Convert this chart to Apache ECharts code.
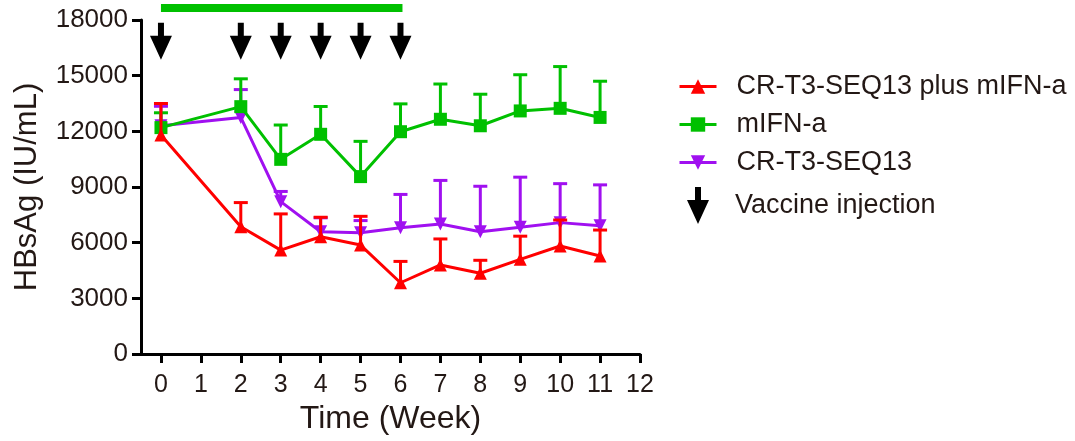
<!DOCTYPE html>
<html>
<head>
<meta charset="utf-8">
<script src="https://cdn.jsdelivr.net/npm/echarts@6/dist/echarts.min.js"></script>
<style>
html, body { margin: 0; padding: 0; background: #fff; }
#chart { width: 1075px; height: 441px; }
</style>
</head>
<body>
<div id="chart"></div>
<script>
var weeks = [0, 2, 3, 4, 5, 6, 7, 8, 9, 10, 11];
var xTicks = [0, 1, 2, 3, 4, 5, 6, 7, 8, 9, 10, 11, 12];

// mean HBsAg (IU/mL) and error (upper bar only)
var comboMean = [11800, 6860, 5600, 6320, 5870, 3840, 4800, 4350, 5100, 5820, 5280];
var comboErr = [1700, 1300, 1950, 1050, 1550, 1150, 1400, 700, 1250, 1400, 1400];
var ifnMean = [12200, 13330, 10490, 11840, 9560, 11980, 12650, 12300, 13100, 13240, 12750];
var ifnErr = [800, 1500, 1850, 1500, 1900, 1500, 1900, 1700, 1950, 2250, 1950];
var vacMean = [12300, 12750, 8210, 6590, 6540, 6800, 7005, 6590, 6830, 7080, 6915];
var vacErr = [1050, 1500, 550, 750, 650, 1800, 2350, 2450, 2700, 2100, 2200];

var injectionWeeks = [0, 2, 3, 4, 5, 6];
var arrowLevel = 16850;
var treatmentSpan = [0, 6.05];
var treatmentLevel = 18650;

var RED = '#ff0000', GREEN = '#00c000', PURPLE = '#a010f0';
var TXT = '#231815';
var FONT = 'Liberation Sans, Arial, sans-serif';
var ARROW = 'path://M8,0L14,0L14,13L22,13L11,37L0,13L8,13Z';

function pts(means) {
	return weeks.map(function(w, i) { return [w, means[i]]; });
}
function errPts(means, errs) {
	return weeks.map(function(w, i) { return [w, means[i], means[i] + errs[i]]; });
}
function errSeries(name, means, errs, color, z) {
	return {
		name: name + ' err',
		type: 'custom',
		z: z,
		data: errPts(means, errs),
		renderItem: function(params, api) {
			var p = api.coord([api.value(0), api.value(1)]);
			var t = api.coord([api.value(0), api.value(2)]);
			var st = { stroke: color, lineWidth: 3 };
			return {
				type: 'group',
				children: [
					{ type: 'line', shape: { x1: p[0], y1: p[1], x2: t[0], y2: t[1] }, style: st },
					{ type: 'line', shape: { x1: t[0] - 7, y1: t[1], x2: t[0] + 7, y2: t[1] }, style: st }
				]
			};
		}
	};
}

var myChart = echarts.init(document.getElementById('chart'));
var option = {
	animation: false,
	textStyle: { fontFamily: FONT, color: TXT },
	grid: {
		left: 141,
		right: 435,
		top: 20,
		bottom: 87,
		containLabel: false,
		outerBoundsMode: 'none'
	},
	legend: [{
		data: ['CR-T3-SEQ13 plus mIFN-a', 'mIFN-a', 'CR-T3-SEQ13'],
		orient: 'vertical',
		left: 673,
		top: 68,
		itemWidth: 37,
		itemHeight: 18,
		itemGap: 11,
		selectedMode: false,
		lineStyle: { width: 3 },
		textStyle: { fontSize: 27, color: TXT, fontFamily: FONT, padding: [0, 0, 0, 15] }
	}, {
		data: ['Vaccine injection'],
		orient: 'vertical',
		left: 682,
		top: 182,
		itemWidth: 22,
		itemHeight: 41,
		selectedMode: false,
		itemStyle: { opacity: 1 },
		textStyle: { fontSize: 27, color: TXT, fontFamily: FONT, padding: [0, 0, 0, 21] }
	}],
	xAxis: {
		type: 'value',
		min: -0.5,
		max: 12,
		name: 'Time (Week)',
		nameLocation: 'middle',
		nameGap: 44,
		nameTextStyle: { fontSize: 32, color: TXT, fontFamily: FONT },
		axisLine: { onZero: false, lineStyle: { color: '#000', width: 3 } },
		axisTick: { show: true, length: 9, lineStyle: { color: '#000', width: 3 }, customValues: xTicks },
		axisLabel: { fontSize: 25, color: TXT, margin: 19, customValues: xTicks },
		splitLine: { show: false }
	},
	yAxis: {
		type: 'value',
		min: 0,
		max: 18000,
		interval: 3000,
		name: 'HBsAg (IU/mL)',
		nameLocation: 'middle',
		nameGap: 98,
		nameTextStyle: { fontSize: 31, color: TXT, fontFamily: FONT },
		axisLine: { show: true, onZero: false, lineStyle: { color: '#000', width: 3 } },
		axisTick: { show: true, length: 9, lineStyle: { color: '#000', width: 3 } },
		axisLabel: { fontSize: 26, color: TXT, margin: 13, formatter: function(v) { return String(v); } },
		splitLine: { show: false }
	},
	series: [
		{
			name: 'treatment',
			type: 'line',
			clip: false,
			silent: true,
			symbol: 'none',
			data: [[treatmentSpan[0], treatmentLevel], [treatmentSpan[1], treatmentLevel]],
			lineStyle: { color: GREEN, width: 8 },
			z: 1
		},
		{
			name: 'Vaccine injection',
			type: 'scatter',
			symbol: ARROW,
			symbolSize: [22, 37],
			itemStyle: { color: '#000', opacity: 1 },
			data: injectionWeeks.map(function(w) { return [w, arrowLevel]; }),
			z: 2
		},
		errSeries('CR-T3-SEQ13', vacMean, vacErr, PURPLE, 3),
		{
			name: 'CR-T3-SEQ13',
			type: 'line',
			symbol: 'triangle',
			symbolRotate: 180,
			symbolSize: 13,
			data: pts(vacMean),
			itemStyle: { color: PURPLE },
			lineStyle: { color: PURPLE, width: 3 },
			z: 4
		},
		errSeries('mIFN-a', ifnMean, ifnErr, GREEN, 5),
		{
			name: 'mIFN-a',
			type: 'line',
			symbol: 'rect',
			symbolSize: 13,
			data: pts(ifnMean),
			itemStyle: { color: GREEN },
			lineStyle: { color: GREEN, width: 3 },
			z: 6
		},
		errSeries('CR-T3-SEQ13 plus mIFN-a', comboMean, comboErr, RED, 7),
		{
			name: 'CR-T3-SEQ13 plus mIFN-a',
			type: 'line',
			symbol: 'triangle',
			symbolSize: 13,
			data: pts(comboMean),
			itemStyle: { color: RED },
			lineStyle: { color: RED, width: 3 },
			z: 8
		}
	]
};
myChart.setOption(option);
</script>
</body>
</html>
